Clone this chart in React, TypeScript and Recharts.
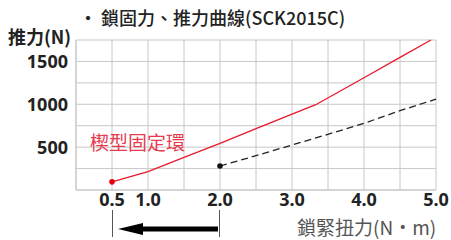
import React from "react";
import { LineChart, Line, XAxis, YAxis, CartesianGrid } from "recharts";

const lockingX = [0.5, 1.0, 1.5, 2.0, 2.5, 3.33, 4.0, 4.5, 4.93];
const lockingY = [95, 215, 380, 545, 715, 995, 1310, 1548, 1750];
const thrustX = [2.0, 2.5, 3.0, 3.5, 4.0, 4.5, 5.0];
const thrustY = [280, 400, 525, 650, 778, 925, 1060];
const xTicks = [0.5, 1.0, 2.0, 3.0, 4.0, 5.0];
const yTicks = [500, 1000, 1500];
const xGrid = [0, 0.5, 1, 1.5, 2, 2.5, 3, 3.5, 4, 4.5, 5];
const yGrid = [0, 250, 500, 750, 1000, 1250, 1500, 1750];

const lockingData = lockingX.map((x, i) => ({ x, y: lockingY[i] }));
const thrustData = thrustX.map((x, i) => ({ x, y: thrustY[i] }));

const FONT = "'Noto Sans', 'Noto Sans CJK TC', sans-serif";
const CJK = "'Noto Sans CJK TC', 'Noto Sans', sans-serif";

const firstDot = (color: string) => (props: any) => {
  const { cx, cy, index } = props;
  if (index !== 0) return <g key={"d" + index} />;
  return <circle key={"d" + index} cx={cx} cy={cy} r={2.8} fill={color} stroke="none" />;
};

export default function App() {
  return (
    <div style={{ position: "absolute", left: 0, top: 0, width: 451, height: 240, background: "#fff" }}>
      <LineChart
        width={451}
        height={240}
        margin={{ top: 40, right: 15, bottom: 20, left: 16 }}
      >
        <CartesianGrid
          stroke="#c8c8c8"
          strokeWidth={1}
          verticalValues={xGrid}
          horizontalValues={yGrid}
        />
        <XAxis
          type="number"
          dataKey="x"
          domain={[0, 5]}
          ticks={xTicks}
          tickFormatter={(v: number) => v.toFixed(1)}
          axisLine={{ stroke: "#c8c8c8" }}
          tickLine={false}
          tickSize={0}
          tickMargin={3}
          height={30}
          interval={0}
          tick={{ fill: "#222", fontSize: 18, fontWeight: 700, fontFamily: FONT }}
        />
        <YAxis
          type="number"
          dataKey="y"
          domain={[0, 1750]}
          ticks={yTicks}
          axisLine={{ stroke: "#c8c8c8" }}
          tickLine={false}
          tickSize={0}
          tickMargin={8}
          width={60}
          interval={0}
          tick={{ fill: "#222", fontSize: 18, fontWeight: 700, fontFamily: FONT }}
        />
        <Line
          data={lockingData}
          dataKey="y"
          type="linear"
          stroke="#e8192c"
          strokeWidth={1.3}
          dot={firstDot("#e60012")}
          activeDot={false}
          isAnimationActive={false}
        />
        <Line
          data={thrustData}
          dataKey="y"
          type="linear"
          stroke="#222"
          strokeWidth={1.3}
          strokeDasharray="7 4"
          dot={firstDot("#111")}
          activeDot={false}
          isAnimationActive={false}
        />
      </LineChart>
      <svg width={451} height={240} style={{ position: "absolute", left: 0, top: 0, pointerEvents: "none" }}>
        <text x={79} y={25} fontSize={18} fontFamily={CJK} fill="#222" fontWeight={500}>
          ・ 鎖固力、推力曲線(SCK2015C)
        </text>
        <text x={8} y={44} fontSize={18} fontFamily={CJK} fill="#222" fontWeight={700}>
          推力(N)
        </text>
        <text x={90} y={150} fontSize={19} fontFamily={CJK} fill="#e83a4e">
          楔型固定環
        </text>
        <text x={297} y={235} fontSize={19} fontFamily={CJK} fill="#555">
          鎖緊扭力(N・m)
        </text>
        <line x1={112.5} y1={210} x2={112.5} y2={237} stroke="#555" strokeWidth={1} />
        <line x1={219.5} y1={210} x2={219.5} y2={237} stroke="#555" strokeWidth={1} />
        <rect x={142} y={226.5} width={76} height={5} fill="#000" />
        <polygon points="118,229 143,223 143,235" fill="#000" />
      </svg>
    </div>
  );
}
